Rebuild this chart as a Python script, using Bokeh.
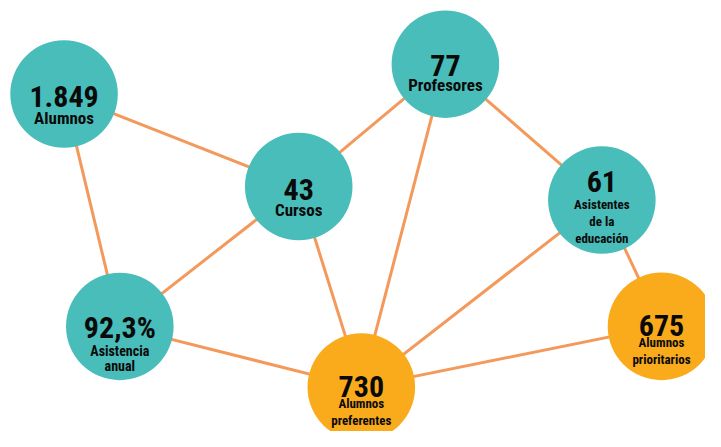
from bokeh.plotting import figure
from bokeh.models import Range1d
from bokeh.core.properties import value
from bokeh.embed import file_html
from bokeh.resources import INLINE

# Data
values = ["1.849", "43", "77", "61", "92,3%", "730", "675"]
labels = ["Alumnos", "Cursos", "Profesores", "Asistentes\nde la\neducación",
          "Asistencia\nanual", "Alumnos\npreferentes", "Alumnos\nprioritarios"]
groups = ["base", "base", "base", "base", "base", "highlight", "highlight"]
edge_from = [0, 0, 1, 1, 1, 2, 2, 3, 3, 4, 5]
edge_to = [1, 4, 2, 4, 5, 5, 3, 5, 6, 5, 6]

# Layout (reference-pixel coordinates, y downward)
node_x = [65, 305, 455, 615, 122, 369, 676]
node_y = [97, 193, 66, 207, 338, 401, 338]
node_r = 55
value_dy = [3, 3, 1, -19, 1, -1, -1]
label_dy = [25, 24, 22, 5, 25, 17, 17]
label_gap = [0, 0, 0, 17.5, 16, 18, 17]
label_size = [17, 17, 17, 13, 14, 13, 13]

teal = "#48BDB9"
orange = "#F9AB1C"
edge_color = "#F3995B"

W, H = 705, 431
p = figure(width=W, height=H, output_backend="svg", toolbar_location=None,
           x_range=Range1d(0, 721), y_range=Range1d(447, 0),
           min_border=0)
p.axis.visible = False
p.grid.visible = False
p.outline_line_color = None

p.segment(x0=[node_x[i] for i in edge_from], y0=[node_y[i] for i in edge_from],
          x1=[node_x[i] for i in edge_to], y1=[node_y[i] for i in edge_to],
          line_color=edge_color, line_width=3)

colors = [teal if g == "base" else orange for g in groups]
p.circle(x=node_x, y=node_y, radius=node_r, fill_color=colors, line_color=None)

font = value("Roboto Condensed")
p.text(x=node_x, y=[y + d for y, d in zip(node_y, value_dy)], text=values,
       text_font=font, text_font_style="bold", text_font_size="30px",
       text_align="center", text_baseline="alphabetic", text_color="#0a0a0a")

for i in range(len(values)):
    lines = labels[i].split("\n")
    fs = label_size[i]
    for j, ln in enumerate(lines):
        p.text(x=[node_x[i]], y=[node_y[i] + label_dy[i] + j * label_gap[i]], text=[ln],
               text_font=font, text_font_style="bold", text_font_size=f"{fs}px",
               text_align="center", text_baseline="alphabetic", text_color="#0a0a0a")

open("out.html", "w").write(file_html(p, INLINE))
